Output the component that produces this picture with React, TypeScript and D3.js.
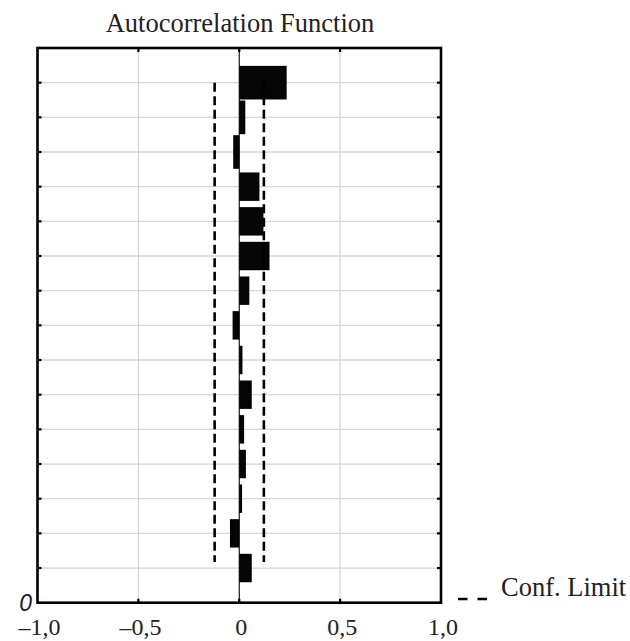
import React from "react";
import * as d3 from "d3";

const lags = [1, 2, 3, 4, 5, 6, 7, 8, 9, 10, 11, 12, 13, 14, 15];
const acfValues = [0.235, 0.03, -0.03, 0.1, 0.12, 0.15, 0.05, -0.033, 0.016, 0.062, 0.024, 0.033, 0.014, -0.046, 0.062];
const confLimit = [-0.122, 0.122];
const xTickValues = [-1, -0.5, 0, 0.5, 1];
const xTickLabels = ["\u20131,0", "\u20130,5", "0", "0,5", "1,0"];
const yTickLabels = ["0"];
const title = "Autocorrelation Function";
const legendLabel = "Conf. Limit";

const W = 630;
const H = 641;
const left = 37.5;
const right = 441;
const top = 48;
const bottom = 602.7;

export default function App() {
  const x = d3.scaleLinear().domain([-1, 1]).range([left, right]);
  const nLag = lags.length + 1;
  const y = d3.scaleLinear().domain([0, nLag]).range([bottom, top]);
  const lagY = (lag: number) => y(nLag - lag);
  const band = Math.abs(y(0) - y(1));
  const serif = "'Liberation Serif', 'Times New Roman', serif";

  return (
    <svg
      width={W}
      height={H}
      style={{ position: "absolute", left: 0, top: 0, background: "#fff" }}
    >
      <rect x={0} y={0} width={W} height={H} fill="#fff" />
      <text x={240} y={32} textAnchor="middle" fontFamily={serif} fontSize={26.5} fill="#222">
        {title}
      </text>
      {/* grid */}
      {lags.map((l) => (
        <line key={"gh" + l} x1={left} x2={right} y1={lagY(l)} y2={lagY(l)} stroke="#d6d6d6" strokeWidth={1.3} />
      ))}
      {xTickValues
        .filter((v) => v > -1 && v < 1)
        .map((v) => (
          <line key={"gv" + v} x1={x(v)} x2={x(v)} y1={top} y2={bottom} stroke="#d6d6d6" strokeWidth={1.3} />
        ))}
      {/* zero line */}
      <line x1={x(0)} x2={x(0)} y1={top} y2={bottom} stroke="#000" strokeWidth={1} />
      {/* bars */}
      {lags.map((l, i) => {
        const v = acfValues[i];
        const h = i < 3 ? band * 0.97 : band * 0.82;
        const x0 = x(Math.min(0, v));
        const x1 = x(Math.max(0, v));
        return (
          <rect key={"b" + l} x={x0} y={lagY(l) - h / 2} width={Math.max(1, x1 - x0)} height={h} fill="#050505" />
        );
      })}
      {/* confidence limits */}
      {confLimit.map((c, i) => (
        <line
          key={"c" + i}
          x1={x(c)}
          x2={x(c)}
          y1={lagY(lags[0])}
          y2={lagY(lags[lags.length - 1]) - 6}
          stroke="#000"
          strokeWidth={2.6}
          strokeDasharray="9 4.5"
        />
      ))}
      {/* ticks */}
      {lags.map((l) => (
        <g key={"t" + l}>
          <line x1={left} x2={left + 4} y1={lagY(l)} y2={lagY(l)} stroke="#000" strokeWidth={2.2} />
          <line x1={right - 4} x2={right} y1={lagY(l)} y2={lagY(l)} stroke="#000" strokeWidth={2.2} />
        </g>
      ))}
      {xTickValues
        .filter((v) => v > -1 && v < 1)
        .map((v) => (
          <g key={"tx" + v}>
            <line x1={x(v)} x2={x(v)} y1={top} y2={top + 4} stroke="#000" strokeWidth={2.2} />
            <line x1={x(v)} x2={x(v)} y1={bottom - 4} y2={bottom} stroke="#000" strokeWidth={2.2} />
          </g>
        ))}
      {/* frame */}
      <rect x={left} y={top} width={right - left} height={bottom - top} fill="none" stroke="#000" strokeWidth={2.6} />
      {/* x tick labels */}
      {xTickValues.map((v, i) => (
        <text key={"xl" + v} x={x(v) + 2} y={635} textAnchor="middle" fontFamily={serif} fontSize={24} fill="#222">
          {xTickLabels[i]}
        </text>
      ))}
      {/* y tick label */}
      {yTickLabels.map((t) => (
        <text
          key={"yl" + t}
          x={32}
          y={y(0) + 8.5}
          textAnchor="end"
          fontFamily="'Liberation Sans', Arial, sans-serif"
          fontStyle="italic"
          fontSize={23}
          fill="#222"
        >
          {t}
        </text>
      ))}
      {/* legend */}
      <line x1={458} x2={487} y1={599} y2={599} stroke="#000" strokeWidth={2.6} strokeDasharray="9.5 10" />
      <text x={501} y={596} fontFamily={serif} fontSize={26.5} fill="#222">
        {legendLabel}
      </text>
    </svg>
  );
}
